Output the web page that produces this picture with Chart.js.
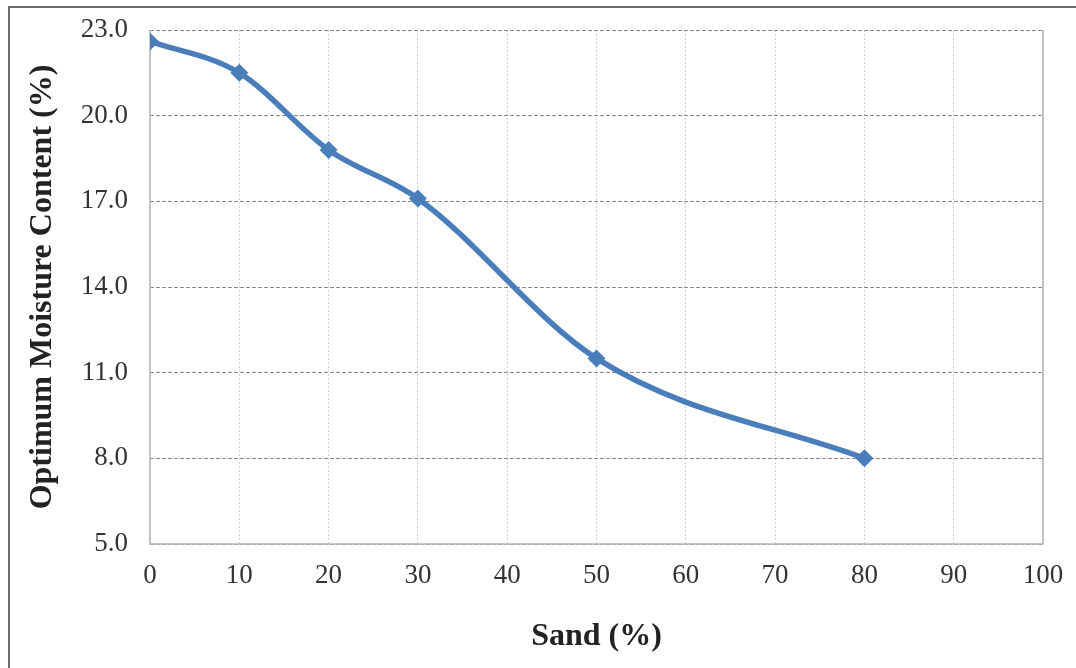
<!DOCTYPE html>
<html>
<head>
<meta charset="utf-8">
<script src="https://cdn.jsdelivr.net/npm/chart.js@4.4.0/dist/chart.umd.min.js"></script>
<style>
  html, body { margin: 0; padding: 0; background: #fff; }
  #wrap { position: relative; width: 1076px; height: 668px; }
  #frame { position: absolute; left: 8px; top: 6px; right: -2px; bottom: -2px;
           border-left: 2px solid #6e6e6e; border-top: 2px solid #6e6e6e; }
</style>
</head>
<body>
<div id="wrap">
  <div id="frame"></div>
  <canvas id="omcChart" width="1076" height="668"></canvas>
</div>
<script>
// —————— DATA ——————
const sandPct = [0, 10, 20, 30, 50, 80];
const omcPct = [22.6, 21.5, 18.8, 17.1, 11.5, 8.0];
const xTicks = [0, 10, 20, 30, 40, 50, 60, 70, 80, 90, 100];
const yTicks = [5.0, 8.0, 11.0, 14.0, 17.0, 20.0, 23.0];

const serif = "'Liberation Serif', 'Times New Roman', serif";

// plot frame (left / right / bottom edges in light grey)
const plotFrame = {
  id: 'plotFrame',
  beforeDatasetsDraw(chart) {
    const { ctx, chartArea: a } = chart;
    ctx.save();
    ctx.strokeStyle = '#b4b4b4';
    ctx.lineWidth = 1.5;
    ctx.beginPath();
    ctx.moveTo(a.left, a.top);
    ctx.lineTo(a.left, a.bottom);
    ctx.lineTo(a.right, a.bottom);
    ctx.lineTo(a.right, a.top);
    ctx.stroke();
    ctx.restore();
  }
};

const ctx = document.getElementById('omcChart');
new Chart(ctx, {
  type: 'line',
  data: {
    datasets: [{
      label: 'OMC',
      data: sandPct.map((x, i) => ({ x: x, y: omcPct[i] })),
      borderColor: '#4a7ebb',
      backgroundColor: '#4a7ebb',
      borderWidth: 5.5,
      tension: 0.4,
      cubicInterpolationMode: 'monotone',
      pointStyle: 'rectRot',
      pointRadius: 9,
      pointBorderWidth: 0,
      fill: false
    }]
  },
  options: {
    responsive: false,
    animation: false,
    layout: { padding: { left: 0, top: 30, right: 33, bottom: 0 } },
    plugins: {
      legend: { display: false },
      tooltip: { enabled: false }
    },
    scales: {
      x: {
        type: 'linear',
        min: 0,
        max: 100,
        afterFit: s => {
          s.height = 124;
          s.paddingLeft = 0;
          s.paddingRight = 0;
        },
        afterBuildTicks: s => { s.ticks = xTicks.map(v => ({ value: v })); },
        ticks: {
          color: '#333',
          padding: 16,
          maxRotation: 0,
          font: { family: serif, size: 27 }
        },
        grid: {
          color: '#cfcfcf',
          lineWidth: 1,
          drawTicks: false
        },
        border: { display: false, dash: [2, 2] },
        title: {
          display: true,
          text: 'Sand (%)',
          color: '#222',
          padding: { top: 10, bottom: 12 },
          font: { family: serif, size: 32, weight: 'bold' }
        }
      },
      y: {
        min: 5,
        max: 23,
        afterFit: s => {
          s.width = 150;
          s.paddingTop = 0;
          s.paddingBottom = 0;
        },
        afterBuildTicks: s => { s.ticks = yTicks.map(v => ({ value: v })); },
        ticks: {
          color: '#333',
          padding: 22,
          callback: v => Number(v).toFixed(1),
          font: { family: serif, size: 27 }
        },
        grid: {
          color: '#8a8a8a',
          lineWidth: 1,
          drawTicks: false
        },
        border: { display: false, dash: [4, 2] },
        title: {
          display: true,
          text: 'Optimum Moisture Content (%)',
          color: '#222',
          padding: { top: 24, bottom: 0 },
          font: { family: serif, size: 32, weight: 'bold' }
        }
      }
    }
  },
  plugins: [plotFrame]
});
</script>
</body>
</html>
